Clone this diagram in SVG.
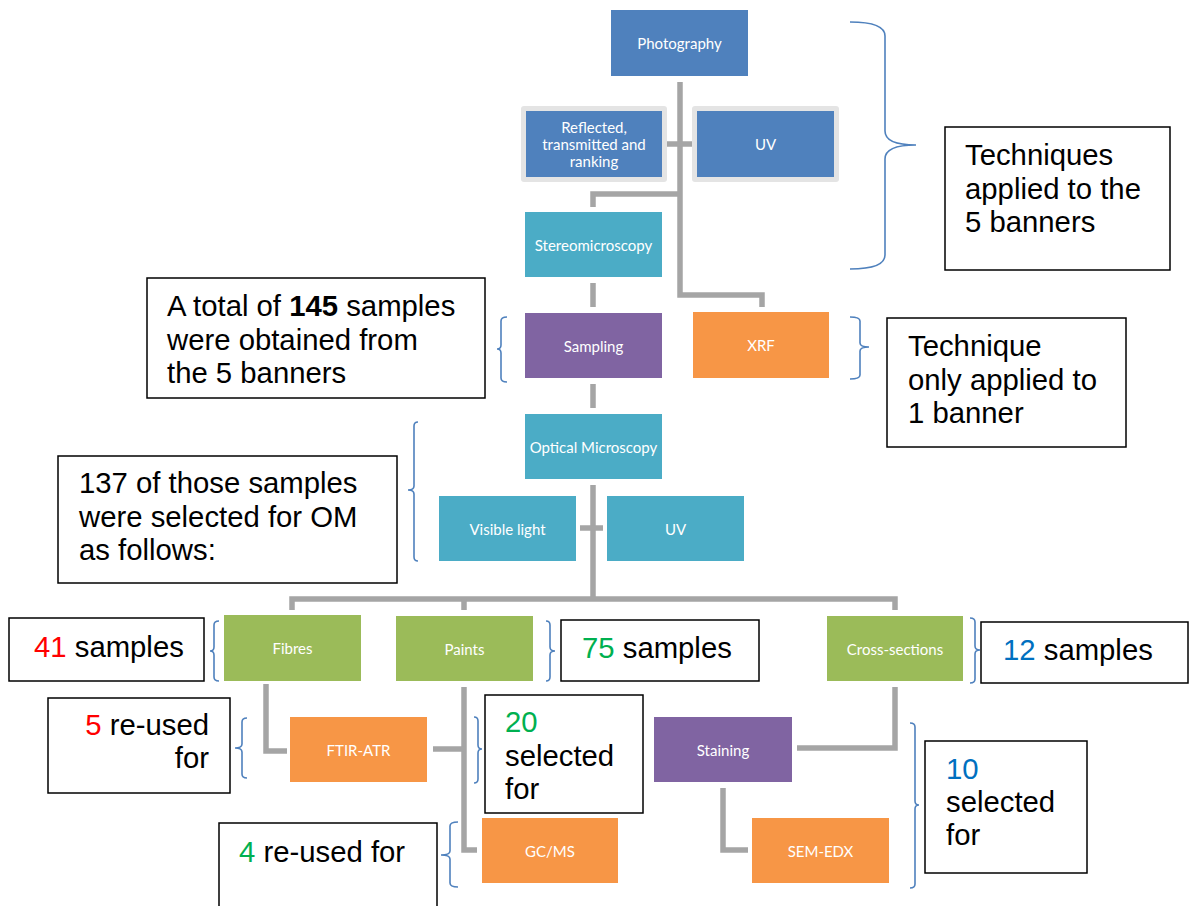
<svg xmlns="http://www.w3.org/2000/svg" width="1195" height="906" viewBox="0 0 1195 906">
  <style>
    .node text { font-family: Lato, "Open Sans", sans-serif; font-size: 15px; fill: #ffffff; text-anchor: middle; dominant-baseline: central; }
    .blue { fill: #4f81bd; }
    .teal { fill: #4bacc6; }
    .purple { fill: #8064a2; }
    .orange { fill: #f79646; }
    .green { fill: #9bbb59; }
    .halo { fill: #e4e4e4; }
    .conn { fill: none; stroke: #a5a5a5; stroke-width: 5.5; }
    .brace { fill: none; stroke: #4f81bd; stroke-width: 1.6; }
    .note rect { fill: #ffffff; stroke: #000000; stroke-width: 1.5; }
    .note text { font-family: "Liberation Sans", Arial, sans-serif; font-size: 29.3px; fill: #000000; }
    .note .red { fill: #ff0000; }
    .note .grn { fill: #00b050; }
    .note .blu { fill: #0070c0; }
  </style>
  <rect width="1195" height="906" fill="#ffffff"/>

  <!-- connectors -->
  <g id="connectors">
    <path class="conn" d="M680,82 V295 H762 V307"/>
    <path class="conn" d="M667,144 H692"/>
    <path class="conn" d="M680,194 H593 V207"/>
    <path class="conn" d="M593,283 V307"/>
    <path class="conn" d="M593,384 V408"/>
    <path class="conn" d="M593,485 V599"/>
    <path class="conn" d="M580,528 H603"/>
    <path class="conn" d="M292,610 V599 H895 V610"/>
    <path class="conn" d="M464,599 V610"/>
    <path class="conn" d="M266,684 V751 H287"/>
    <path class="conn" d="M464,687 V850 H477"/>
    <path class="conn" d="M433,749 H464"/>
    <path class="conn" d="M895,687 V748 H797"/>
    <path class="conn" d="M723,788 V850 H748"/>
  </g>

  <!-- braces -->
  <g id="braces">
    <path class="brace" d="M850,22 Q885,22 885,36 V131 Q885,145 916,145 Q885,145 885,159 V255 Q885,269 850,269"/>
    <path class="brace" d="M507,317 Q501,317 501,321 V345 Q501,349 497,349 Q501,349 501,353 V378 Q501,382 507,382"/>
    <path class="brace" d="M850,317 Q860,317 860,321 V343 Q860,347 869,347 Q860,347 860,351 V375 Q860,379 850,379"/>
    <path class="brace" d="M418,422 Q414,422 414,426 V486 Q414,490 408,490 Q414,490 414,494 V557 Q414,561 418,561"/>
    <path class="brace" d="M219,621 Q214,621 214,625 V647 Q214,651 210,651 Q214,651 214,655 V677 Q214,681 219,681"/>
    <path class="brace" d="M546,621 Q550,621 550,625 V647 Q550,651 555,651 Q550,651 550,655 V677 Q550,681 546,681"/>
    <path class="brace" d="M970,618 Q975,618 975,622 V646 Q975,650 980,650 Q975,650 975,654 V679 Q975,683 970,683"/>
    <path class="brace" d="M247,718 Q242,718 242,722 V744 Q242,748 235,748 Q242,748 242,752 V774 Q242,778 247,778"/>
    <path class="brace" d="M474,717 Q478,717 478,721 V745 Q478,749 482,749 Q478,749 478,753 V779 Q478,783 474,783"/>
    <path class="brace" d="M910,723 Q915,723 915,727 V801 Q915,805 919,805 Q915,805 915,809 V884 Q915,888 910,888"/>
    <path class="brace" d="M458,822 Q450,822 450,826 V851 Q450,855 441,855 Q450,855 450,859 V883 Q450,887 458,887"/>
  </g>

  <!-- technique nodes -->
  <g id="photography" class="node">
    <rect class="blue" x="611" y="10" width="137" height="66"/>
    <text x="679.5" y="43">Photography</text>
  </g>
  <g id="reflected" class="node">
    <rect class="halo" x="521" y="106" width="146" height="76" rx="3"/>
    <rect class="blue" x="526" y="111" width="136" height="66"/>
    <text x="594" y="127">Reflected,</text>
    <text x="594" y="144">transmitted and</text>
    <text x="594" y="161">ranking</text>
  </g>
  <g id="photo-uv" class="node">
    <rect class="halo" x="692" y="106" width="147" height="76" rx="3"/>
    <rect class="blue" x="697" y="111" width="137" height="66"/>
    <text x="765.5" y="144">UV</text>
  </g>
  <g id="stereomicroscopy" class="node">
    <rect class="teal" x="525" y="212" width="137" height="65"/>
    <text x="593.5" y="244.5">Stereomicroscopy</text>
  </g>
  <g id="sampling" class="node">
    <rect class="purple" x="525" y="313" width="137" height="65"/>
    <text x="593.5" y="345.5">Sampling</text>
  </g>
  <g id="xrf" class="node">
    <rect class="orange" x="693" y="312" width="136" height="66"/>
    <text x="761" y="345">XRF</text>
  </g>
  <g id="optical-microscopy" class="node">
    <rect class="teal" x="525" y="414" width="137" height="65"/>
    <text x="593.5" y="446.5">Optical Microscopy</text>
  </g>
  <g id="visible-light" class="node">
    <rect class="teal" x="439" y="496" width="137" height="65"/>
    <text x="507.5" y="528.5">Visible light</text>
  </g>
  <g id="om-uv" class="node">
    <rect class="teal" x="607" y="496" width="137" height="65"/>
    <text x="675.5" y="528.5">UV</text>
  </g>
  <g id="fibres" class="node">
    <rect class="green" x="224" y="615" width="137" height="66"/>
    <text x="292.5" y="648">Fibres</text>
  </g>
  <g id="paints" class="node">
    <rect class="green" x="396" y="616" width="137" height="65"/>
    <text x="464.5" y="648.5">Paints</text>
  </g>
  <g id="cross-sections" class="node">
    <rect class="green" x="827" y="616" width="136" height="65"/>
    <text x="895" y="648.5">Cross-sections</text>
  </g>
  <g id="ftir-atr" class="node">
    <rect class="orange" x="290" y="717" width="137" height="65"/>
    <text x="358.5" y="749.5">FTIR-ATR</text>
  </g>
  <g id="staining" class="node">
    <rect class="purple" x="654" y="717" width="138" height="65"/>
    <text x="723" y="749.5">Staining</text>
  </g>
  <g id="gc-ms" class="node">
    <rect class="orange" x="482" y="818" width="136" height="65"/>
    <text x="550" y="850.5">GC/MS</text>
  </g>
  <g id="sem-edx" class="node">
    <rect class="orange" x="752" y="818" width="137" height="65"/>
    <text x="820.5" y="850.5">SEM-EDX</text>
  </g>

  <!-- annotation boxes -->
  <g id="note-techniques" class="note">
    <rect x="945" y="127" width="225" height="143"/>
    <text x="965" y="165">Techniques</text>
    <text x="965" y="199">applied to the</text>
    <text x="965" y="232">5 banners</text>
  </g>
  <g id="note-total" class="note">
    <rect x="147" y="278" width="338" height="120"/>
    <text x="167" y="316">A total of <tspan font-weight="bold">145</tspan> samples</text>
    <text x="167" y="350">were obtained from</text>
    <text x="167" y="383">the 5 banners</text>
  </g>
  <g id="note-xrf" class="note">
    <rect x="887" y="318" width="239" height="129"/>
    <text x="908" y="356">Technique</text>
    <text x="908" y="390">only applied to</text>
    <text x="908" y="423">1 banner</text>
  </g>
  <g id="note-om" class="note">
    <rect x="58" y="456" width="339" height="127"/>
    <text x="79" y="493">137 of those samples</text>
    <text x="79" y="527">were selected for OM</text>
    <text x="79" y="560">as follows:</text>
  </g>
  <g id="note-fibres" class="note">
    <rect x="9" y="618" width="195" height="63"/>
    <text x="34" y="657"><tspan class="red">41</tspan> samples</text>
  </g>
  <g id="note-paints" class="note">
    <rect x="561" y="620" width="198" height="61"/>
    <text x="582" y="658"><tspan class="grn">75</tspan> samples</text>
  </g>
  <g id="note-cross" class="note">
    <rect x="981" y="622" width="207" height="61"/>
    <text x="1003" y="660"><tspan class="blu">12</tspan> samples</text>
  </g>
  <g id="note-ftir" class="note">
    <rect x="48" y="698" width="182" height="95"/>
    <text x="209" y="735" text-anchor="end"><tspan class="red">5</tspan> re-used</text>
    <text x="209" y="768" text-anchor="end">for</text>
  </g>
  <g id="note-paints-selected" class="note">
    <rect x="485" y="695" width="158" height="118"/>
    <text x="505" y="732" class="grn">20</text>
    <text x="505" y="766">selected</text>
    <text x="505" y="799">for</text>
  </g>
  <g id="note-gcms" class="note">
    <rect x="219" y="823" width="218" height="95"/>
    <text x="239" y="862"><tspan class="grn">4</tspan> re-used for</text>
  </g>
  <g id="note-cross-selected" class="note">
    <rect x="925" y="741" width="162" height="132"/>
    <text x="946" y="779" class="blu">10</text>
    <text x="946" y="812">selected</text>
    <text x="946" y="845">for</text>
  </g>
</svg>
